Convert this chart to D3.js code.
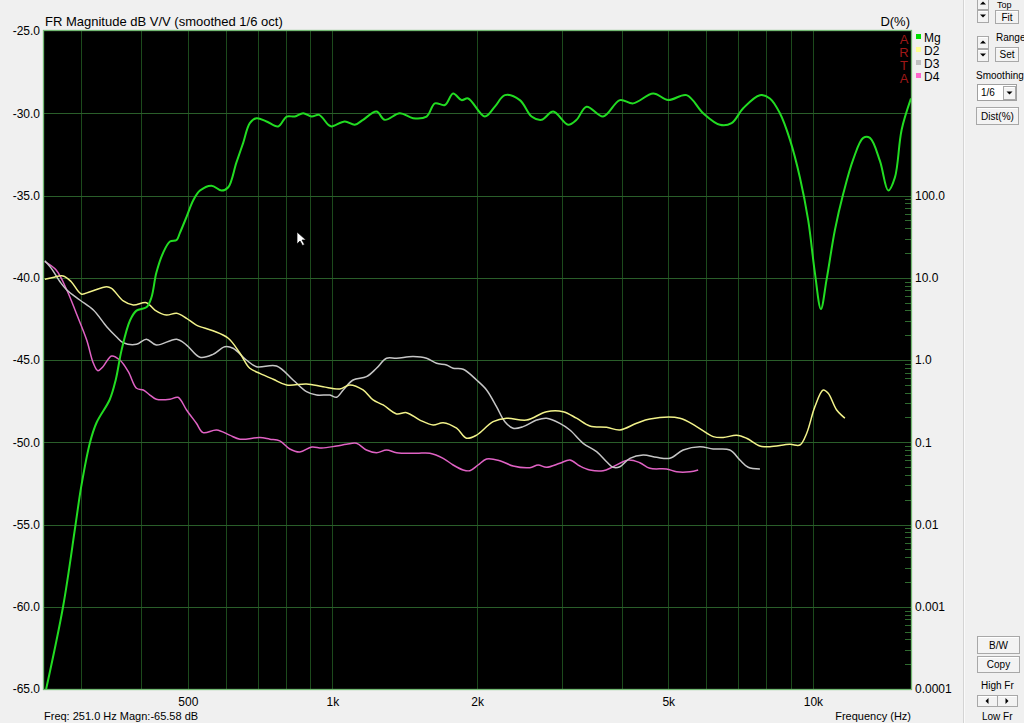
<!DOCTYPE html>
<html><head><meta charset="utf-8">
<script src="https://cdn.jsdelivr.net/npm/d3@7"></script>
<style>
html,body{margin:0;padding:0;background:#f0f0f0;overflow:hidden}
svg{display:block;font-family:"Liberation Sans",Arial,sans-serif}
</style></head>
<body>
<svg id="c" width="1024" height="723"></svg>
<script>
// ---- data ----
const dbTicks = [-25,-30,-35,-40,-45,-50,-55,-60,-65];
const pctTicks = [100,10,1,0.1,0.01,0.001,0.0001];
const pctTickLabels = ["100.0","10.0","1.0","0.1","0.01","0.001","0.0001"];
const freqTicks = [500,1000,2000,5000,10000];
const freqTickLabels = ["500","1k","2k","5k","10k"];
const legendNames = ["Mg","D2","D3","D4"];

const mgFreq = [251,275,292,300,313,323,344,354,364,379,391,410,420,430,444,459,474,481,497,513,530,560,588,607,631,652,673,695,729,771,803,835,869,905,938,980,996,1061,1113,1158,1235,1285,1381,1472,1570,1634,1714,1783,1856,1916,2076,2178,2285,2455,2597,2724,2880,3094,3221,3380,3659,3965,4226,4651,4998,5458,5910,6403,6772,7159,7756,8137,8537,8956,9395,9776,10095,10390,10678,11111,11563,12131,12727,13141,13786,14346,14814,15298,16000];
const mgDb = [-65.6,-60.0,-55.0,-52.7,-50.0,-48.8,-47.4,-46.2,-44.4,-42.6,-42.0,-41.8,-41.2,-39.7,-38.5,-37.8,-37.7,-37.3,-36.3,-35.3,-34.7,-34.4,-34.7,-34.5,-33.0,-31.8,-30.6,-30.3,-30.5,-30.8,-30.2,-30.2,-30.0,-30.2,-30.1,-30.7,-30.8,-30.5,-30.7,-30.4,-29.9,-30.4,-30.0,-30.3,-30.2,-29.4,-29.5,-28.8,-29.2,-29.1,-30.2,-29.6,-28.9,-29.2,-30.2,-30.4,-29.9,-30.7,-30.4,-29.6,-30.2,-29.2,-29.4,-28.8,-29.2,-28.9,-30.0,-30.7,-30.6,-29.7,-28.9,-29.1,-30.0,-31.6,-33.9,-36.5,-39.7,-41.9,-40.1,-37.1,-34.9,-32.8,-31.5,-31.5,-32.9,-34.7,-33.9,-31.0,-29.1];

const d2Freq = [252,262,275,286,300,313,339,347,367,385,410,427,451,474,497,521,564,607,642,673,706,753,803,883,956,1036,1087,1158,1215,1275,1360,1426,1520,1620,1700,1813,1902,1995,2160,2303,2535,2790,3021,3221,3433,3720,3965,4295,4578,5286,5726,6201,6505,6936,7277,7756,8137,8956,9395,9702,10095,10505,10760,11204,11655];
const d2Pct = [9.58,10.1,10.5,8.95,6.35,6.77,7.78,7.44,5.22,4.66,4.97,4.05,3.52,3.70,3.21,2.66,2.27,1.84,1.21,0.793,0.689,0.583,0.497,0.511,0.473,0.444,0.497,0.432,0.327,0.284,0.221,0.229,0.186,0.162,0.173,0.148,0.112,0.122,0.178,0.196,0.186,0.235,0.235,0.196,0.158,0.152,0.141,0.170,0.192,0.196,0.155,0.117,0.114,0.122,0.112,0.090,0.0883,0.0944,0.0926,0.128,0.271,0.432,0.394,0.247,0.196];

const d3Freq = [252,260,271,280,298,318,339,355,367,391,410,430,474,497,530,564,597,621,662,695,765,828,883,927,988,1020,1053,1104,1177,1235,1296,1360,1472,1570,1647,1728,1783,1871,1995,2093,2195,2285,2377,2494,2659,2790,2974,3120,3325,3546,3720,3840,3965,4159,4433,4727,5039,5370,5817,6201,6717,7047,7332,7756];
const d3Pct = [16.1,13.0,8.95,7.10,5.36,4.05,2.54,1.92,1.62,1.55,1.79,1.52,1.79,1.52,1.08,1.17,1.45,1.39,1.0,0.829,0.845,0.571,0.412,0.375,0.375,0.352,0.432,0.571,0.627,0.793,1.05,1.05,1.10,1.05,0.912,0.870,0.793,0.771,0.571,0.432,0.271,0.178,0.148,0.155,0.186,0.196,0.170,0.141,0.0971,0.0768,0.058,0.0496,0.0504,0.0638,0.070,0.0656,0.0638,0.0805,0.0883,0.0828,0.0805,0.0608,0.0496,0.0473];

const d4Freq = [252,266,280,293,308,318,325,333,347,361,376,391,404,417,430,459,477,497,521,538,574,611,642,706,741,777,815,855,906,950,1020,1070,1122,1177,1235,1296,1360,1496,1595,1700,1783,1871,1932,2010,2093,2231,2377,2576,2680,2790,2974,3120,3273,3433,3659,3840,4126,4363,4578,4959,5203,5546,5770];
const d4Pct = [15.7,12.4,7.10,3.70,1.75,0.912,0.741,0.829,1.12,1.0,0.721,0.453,0.432,0.375,0.333,0.333,0.352,0.247,0.170,0.131,0.141,0.122,0.109,0.114,0.109,0.104,0.0828,0.0761,0.0876,0.0851,0.090,0.0944,0.0971,0.0805,0.0746,0.0805,0.0746,0.0735,0.0735,0.0638,0.0529,0.046,0.0451,0.0529,0.0626,0.0597,0.0514,0.0491,0.0529,0.0496,0.0555,0.0608,0.0514,0.046,0.045,0.0504,0.0608,0.0564,0.0482,0.0473,0.0438,0.0438,0.046];

// ---- layout ----
const L = 44, R = 911, T = 31, B = 689;
const svg = d3.select("#c");
const x = d3.scaleLog().domain([251, 16000]).range([L, R]);
const yDb = d3.scaleLinear().domain([-65, -25]).range([B, T]);
const yPct = d3.scaleLog().domain([0.0001, 10000]).range([B, T]);

svg.append("rect").attr("width",1024).attr("height",723).attr("fill","#f0f0f0");
svg.append("rect").attr("x",L).attr("y",T).attr("width",R-L).attr("height",B-T).attr("fill","#000");

// grid
const vGrid = [];
for (const dec of [100,1000]) for (let k=1;k<=9;k++){ const v=dec*k; if (v>=300) vGrid.push(v); }
vGrid.push(10000);
svg.append("g").selectAll("line").data(vGrid).join("line")
  .attr("x1",d=>Math.round(x(d))+0.5).attr("x2",d=>Math.round(x(d))+0.5)
  .attr("y1",T).attr("y2",B).attr("stroke","#1c4a1c").attr("stroke-width",1);
svg.append("g").selectAll("line").data(dbTicks.slice(1,-1)).join("line")
  .attr("x1",L).attr("x2",R)
  .attr("y1",d=>Math.round(yDb(d))+0.5).attr("y2",d=>Math.round(yDb(d))+0.5)
  .attr("stroke","#2a5e2a").attr("stroke-width",1.2);

// minor ticks on right (D% axis)
const minor = [];
for (let e=-4;e<=1;e++) for (let k=2;k<=9;k++) minor.push(k*Math.pow(10,e));
svg.append("g").selectAll("line").data(minor).join("line")
  .attr("x1",R-6).attr("x2",R)
  .attr("y1",d=>Math.round(yPct(d))+0.5).attr("y2",d=>Math.round(yPct(d))+0.5)
  .attr("stroke","#2f6a2f");

// border
svg.append("rect").attr("x",L-0.5).attr("y",T-0.5).attr("width",R-L+1).attr("height",B-T+1)
  .attr("fill","none").attr("stroke","#72b872").attr("stroke-width",1.3);

// curves
const clip = svg.append("clipPath").attr("id","pc").append("rect").attr("x",L).attr("y",T).attr("width",R-L).attr("height",B-T);
const g = svg.append("g").attr("clip-path","url(#pc)");
const lineDb = d3.line().x(d=>x(d[0])).y(d=>yDb(d[1])).curve(d3.curveCatmullRom.alpha(0.5));
const linePct = d3.line().x(d=>x(d[0])).y(d=>yPct(d[1])).curve(d3.curveCatmullRom.alpha(0.5));
const series = [
  {f:d4Freq, v:d4Pct, c:"#e062c4", w:1.5, line:linePct},
  {f:d3Freq, v:d3Pct, c:"#c6c6c6", w:1.5, line:linePct},
  {f:d2Freq, v:d2Pct, c:"#f2f28a", w:1.5, line:linePct},
  {f:mgFreq, v:mgDb, c:"#22dc22", w:2, line:lineDb}
];
series.forEach(s=>{
  g.append("path").datum(s.f.map((f,i)=>[f,s.v[i]])).attr("d",s.line)
   .attr("fill","none").attr("stroke",s.c).attr("stroke-width",s.w).attr("stroke-linejoin","round");
});

// mouse cursor
svg.append("path").attr("d","M297,232 l0,12 l3,-3 l2.5,4.5 l2,-1 l-2.5,-4.5 l4,0 z")
  .attr("fill","#fff").attr("stroke","#000").attr("stroke-width",0.7);

// axes
const axL = d3.axisLeft(yDb).tickValues(dbTicks).tickSize(0).tickPadding(4).tickFormat(d=>d.toFixed(1));
const gl = svg.append("g").attr("transform",`translate(${L},0)`).call(axL);
const axB = d3.axisBottom(x).tickValues(freqTicks).tickSize(0).tickPadding(8).tickFormat((d,i)=>freqTickLabels[i]);
const gb = svg.append("g").attr("transform",`translate(0,${B})`).call(axB);
const axR = d3.axisRight(yPct).tickValues(pctTicks).tickSize(0).tickPadding(4).tickFormat((d,i)=>pctTickLabels[i]);
const gr = svg.append("g").attr("transform",`translate(${R},0)`).call(axR);
[gl,gb,gr].forEach(a=>{
  a.select(".domain").remove();
  a.selectAll("text").attr("fill","#000").attr("font-size",12).attr("font-family","Liberation Sans, Arial, sans-serif");
});

// titles
svg.append("text").attr("x",45).attr("y",26).attr("font-size",13).text("FR Magnitude dB V/V (smoothed 1/6 oct)");
svg.append("text").attr("x",910).attr("y",26).attr("font-size",13).attr("text-anchor","end").text("D(%)");
svg.append("text").attr("x",44).attr("y",720).attr("font-size",11).text("Freq: 251.0 Hz  Magn:-65.58 dB");
svg.append("text").attr("x",911).attr("y",720).attr("font-size",11).attr("text-anchor","end").text("Frequency (Hz)");

// ARTA logo
["A","R","T","A"].forEach((t,i)=>{
  svg.append("text").attr("x",904).attr("y",44+i*13).attr("font-size",13).attr("text-anchor","middle")
    .attr("fill","#a01818").text(t);
});

// legend
const legColors = ["#00e000","#ffff90","#c0c0c0","#ff66cc"];
legendNames.forEach((n,i)=>{
  svg.append("rect").attr("x",916).attr("y",34+i*13).attr("width",5).attr("height",5).attr("fill",legColors[i]);
  svg.append("text").attr("x",924).attr("y",42+i*13).attr("font-size",12).text(n);
});

// right control panel
svg.append("line").attr("x1",963.5).attr("x2",963.5).attr("y1",0).attr("y2",723).attr("stroke","#d4d4d4");
svg.append("line").attr("x1",964.5).attr("x2",964.5).attr("y1",0).attr("y2",723).attr("stroke","#fafafa");
function button(x0,y0,w,h,label,fs){
  svg.append("rect").attr("x",x0+0.5).attr("y",y0+0.5).attr("width",w).attr("height",h)
    .attr("fill","#f3f3f3").attr("stroke","#a8a8a8");
  svg.append("line").attr("x1",x0+1.5).attr("x2",x0+w-0.5).attr("y1",y0+1.5).attr("y2",y0+1.5).attr("stroke","#fff");
  if(label) svg.append("text").attr("x",x0+w/2+0.5).attr("y",y0+h/2+4).attr("text-anchor","middle")
    .attr("font-size",fs||10).attr("fill","#000").text(label);
}
function arrow(cx,cy,dir){
  const p = dir==="up" ? `M${cx-3},${cy+1.5} L${cx+3},${cy+1.5} L${cx},${cy-1.5} Z`
          : dir==="down" ? `M${cx-3},${cy-1.5} L${cx+3},${cy-1.5} L${cx},${cy+1.5} Z`
          : dir==="left" ? `M${cx+1.5},${cy-3} L${cx+1.5},${cy+3} L${cx-1.5},${cy} Z`
          : `M${cx-1.5},${cy-3} L${cx-1.5},${cy+3} L${cx+1.5},${cy} Z`;
  svg.append("path").attr("d",p).attr("fill","#000");
}
svg.append("text").attr("x",997).attr("y",8).attr("font-size",9).text("Top");
button(977,-3,11,12); arrow(983,3,"up");
button(977,10,11,12); arrow(983,16,"down");
button(995,10,23,13,"Fit");
svg.append("text").attr("x",996).attr("y",41).attr("font-size",10).text("Range");
button(977,36,11,12); arrow(983,42,"up");
button(977,49,11,12); arrow(983,55,"down");
button(995,47,23,14,"Set");
svg.append("text").attr("x",976).attr("y",79).attr("font-size",10).text("Smoothing");
svg.append("rect").attr("x",977.5).attr("y",84.5).attr("width",39).attr("height",16).attr("fill","#fff").attr("stroke","#a0a0a0");
svg.append("text").attr("x",981).attr("y",96).attr("font-size",10).text("1/6");
button(1003,86,12,13); arrow(1009.5,93,"down");
button(976,107,42,17,"Dist(%)");
button(977,636,42,17,"B/W");
button(977,656,42,16,"Copy");
svg.append("text").attr("x",981).attr("y",689).attr("font-size",10).text("High Fr");
button(977,695,20,11); arrow(987,701,"left");
button(997,695,20,11); arrow(1007,701,"right");
svg.append("text").attr("x",982).attr("y",720).attr("font-size",10).text("Low Fr");
</script>
</body></html>
